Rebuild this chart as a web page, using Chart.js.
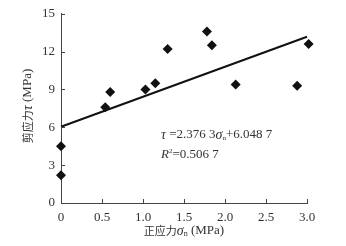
<!DOCTYPE html>
<html>
<head>
<meta charset="utf-8">
<script src="https://cdn.jsdelivr.net/npm/chart.js@4"></script>
<style>
  html, body { margin: 0; padding: 0; background: #fff; }
  #wrap { width: 346px; height: 246px; }
</style>
</head>
<body>
<div id="wrap"><canvas id="myChart" width="346" height="246"></canvas></div>
<script>
// measured points, normal stress (MPa) vs shear stress (MPa)
const sigmaN = [0, 0, 0.54, 0.60, 1.03, 1.15, 1.30, 1.78, 1.84, 2.13, 2.88, 3.02];
const tau    = [4.5, 2.2, 7.6, 8.8, 9.0, 9.5, 12.2, 13.6, 12.5, 9.4, 9.3, 12.6];

// fitted line end points
const fitX = [0, 3.0];
const fitY = [6.05, 13.18];

const xTicks = [0, 0.5, 1.0, 1.5, 2.0, 2.5, 3.0];
const yTicks = [0, 3, 6, 9, 12, 15];

const serif = '"Liberation Serif", "DejaVu Serif", serif';
const cjk = '"Noto Sans CJK SC", sans-serif';
const textColor = '#333';

// draw a run of text pieces one after another
function drawRun(ctx, parts, x, y) {
  let cx = x;
  parts.forEach(p => {
    ctx.font = p.font;
    const dy = p.dy || 0;
    ctx.fillText(p.t, cx, y + dy);
    cx += ctx.measureText(p.t).width;
  });
  return cx - x;
}
function runWidth(ctx, parts) {
  let w = 0;
  parts.forEach(p => { ctx.font = p.font; w += ctx.measureText(p.t).width; });
  return w;
}

const extras = {
  id: 'extras',
  afterDraw(chart) {
    const ctx = chart.ctx;
    const xs = chart.scales.x, ys = chart.scales.y;
    ctx.save();
    // inward ticks
    ctx.strokeStyle = '#444';
    ctx.lineWidth = 1;
    ctx.beginPath();
    xTicks.forEach(v => {
      const px = Math.round(xs.getPixelForValue(v)) + 0.5;
      ctx.moveTo(px, ys.bottom);
      ctx.lineTo(px, ys.bottom - 4);
    });
    yTicks.forEach(v => {
      const py = Math.round(ys.getPixelForValue(v)) + 0.5;
      ctx.moveTo(xs.left, py);
      ctx.lineTo(xs.left + 4, py);
    });
    ctx.stroke();

    ctx.fillStyle = textColor;
    ctx.textBaseline = 'middle';
    ctx.textAlign = 'left';

    // x title
    const xt = [
      { t: '正应力', font: '11px ' + cjk },
      { t: 'σ', font: 'italic 14px ' + serif },
      { t: 'n', font: '8px ' + serif, dy: 3 },
      { t: ' (MPa)', font: '13px ' + serif }
    ];
    const xw = runWidth(ctx, xt);
    drawRun(ctx, xt, 184 - xw / 2, 231);

    // y title, rotated
    const yt = [
      { t: '剪应力', font: '11px ' + cjk },
      { t: 'τ', font: 'italic 14px ' + serif },
      { t: ' (MPa)', font: '13px ' + serif }
    ];
    const yw = runWidth(ctx, yt);
    ctx.save();
    ctx.translate(28, 106);
    ctx.rotate(-Math.PI / 2);
    drawRun(ctx, yt, -yw / 2, 0);
    ctx.restore();

    // equation
    drawRun(ctx, [
      { t: 'τ', font: 'italic 14px ' + serif },
      { t: ' =2.376 3', font: '13px ' + serif },
      { t: 'σ', font: 'italic 14px ' + serif },
      { t: 'n', font: '7px ' + serif, dy: 3 },
      { t: '+6.048 7', font: '13px ' + serif }
    ], 161, 135);
    drawRun(ctx, [
      { t: 'R', font: 'italic 13px ' + serif },
      { t: '2', font: '7px ' + serif, dy: -4 },
      { t: '=0.506 7', font: '13px ' + serif }
    ], 161, 155);
    ctx.restore();
  }
};

const ctx = document.getElementById('myChart');

new Chart(ctx, {
  type: 'scatter',
  data: {
    datasets: [
      {
        label: 'points',
        data: sigmaN.map((x, i) => ({ x: x, y: tau[i] })),
        pointStyle: 'rectRot',
        pointRadius: 5,
        backgroundColor: '#111',
        borderColor: '#111',
        borderWidth: 0
      },
      {
        label: 'fit',
        data: fitX.map((x, i) => ({ x: x, y: fitY[i] })),
        showLine: true,
        pointRadius: 0,
        borderColor: '#111',
        borderWidth: 2
      }
    ]
  },
  options: {
    responsive: false,
    animation: false,
    clip: false,
    layout: { padding: { top: 12, right: 39, left: 0, bottom: 0 } },
    plugins: { legend: { display: false }, tooltip: { enabled: false } },
    scales: {
      x: {
        type: 'linear',
        min: 0, max: 3,
        afterBuildTicks: s => { s.ticks = xTicks.map(v => ({ value: v })); },
        afterFit: s => { s.height = 43; },
        ticks: {
          color: textColor,
          font: { family: serif, size: 13 },
          padding: 7,
          maxRotation: 0,
          callback: v => v === 0 ? '0' : v.toFixed(1)
        },
        grid: { display: false, drawTicks: false },
        border: { display: true, color: '#444', width: 1 }
      },
      y: {
        min: 0, max: 15,
        afterBuildTicks: s => { s.ticks = yTicks.map(v => ({ value: v })); },
        afterFit: s => { s.width = 61; },
        ticks: {
          color: textColor,
          font: { family: serif, size: 13 },
          padding: 6,
          callback: v => String(v)
        },
        grid: { display: false, drawTicks: false },
        border: { display: true, color: '#444', width: 1 }
      }
    }
  },
  plugins: [extras]
});
</script>
</body>
</html>
